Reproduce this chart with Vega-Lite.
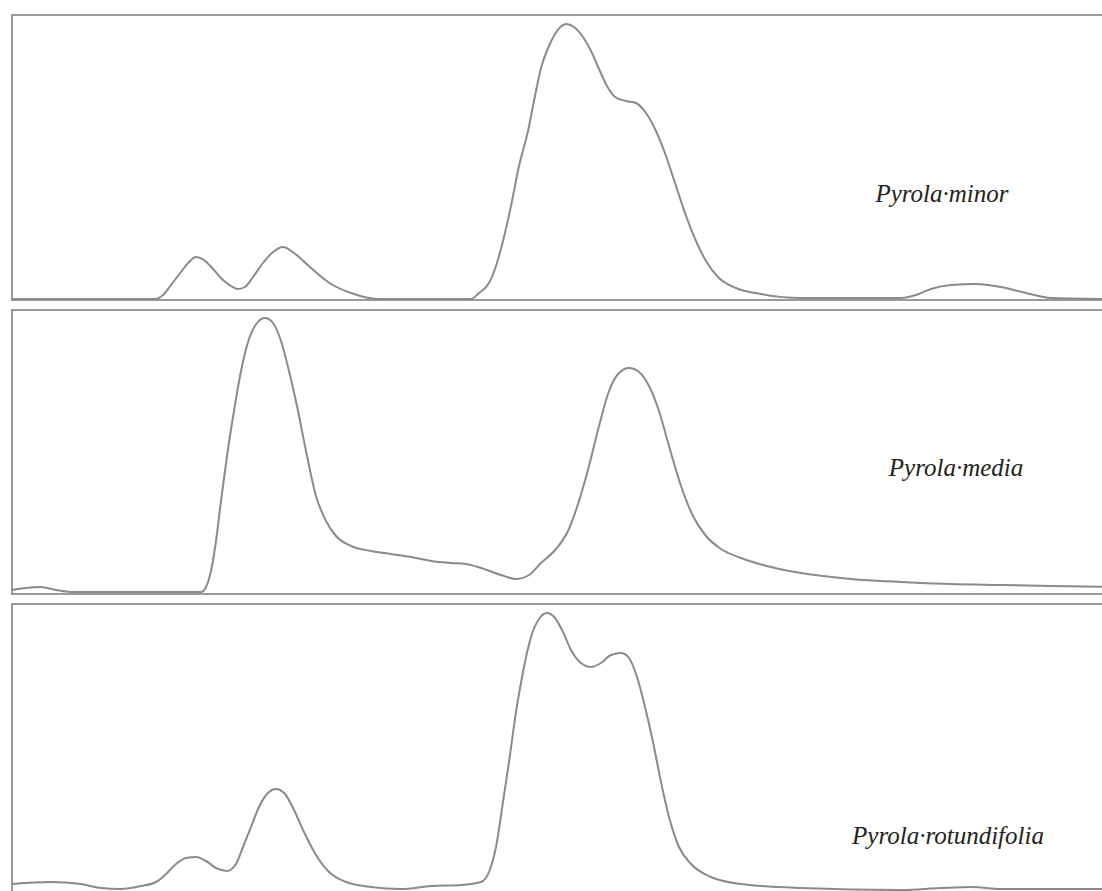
{
  "$schema": "https://vega.github.io/schema/vega-lite/v6.json",
  "padding": {"left": 11, "top": 14, "right": 0, "bottom": 0},
  "background": "white",
  "spacing": 8,
  "config": {
    "view": {"stroke": "#9a9a9a", "strokeWidth": 2},
    "concat": {"spacing": 8}
  },
  "datasets": {
    "minor": [
      {"t": 0, "signal": 1}, {"t": 144, "signal": 1}, {"t": 151, "signal": 5}, {"t": 159, "signal": 15},
      {"t": 169, "signal": 28}, {"t": 177, "signal": 38}, {"t": 184, "signal": 43}, {"t": 192, "signal": 40},
      {"t": 201, "signal": 31}, {"t": 211, "signal": 20}, {"t": 219, "signal": 14}, {"t": 226, "signal": 11},
      {"t": 233, "signal": 13}, {"t": 241, "signal": 23}, {"t": 251, "signal": 37}, {"t": 261, "signal": 48},
      {"t": 271, "signal": 53}, {"t": 282, "signal": 47}, {"t": 299, "signal": 32}, {"t": 319, "signal": 16},
      {"t": 339, "signal": 7}, {"t": 366, "signal": 1}, {"t": 459, "signal": 1}, {"t": 467, "signal": 7},
      {"t": 477, "signal": 17}, {"t": 484, "signal": 34}, {"t": 491, "signal": 59}, {"t": 499, "signal": 94},
      {"t": 507, "signal": 134}, {"t": 516, "signal": 169}, {"t": 522, "signal": 199}, {"t": 529, "signal": 232},
      {"t": 537, "signal": 254}, {"t": 545, "signal": 269}, {"t": 554, "signal": 276}, {"t": 562, "signal": 273},
      {"t": 571, "signal": 263}, {"t": 579, "signal": 249}, {"t": 587, "signal": 231}, {"t": 595, "signal": 214},
      {"t": 603, "signal": 203}, {"t": 614, "signal": 199}, {"t": 624, "signal": 197}, {"t": 634, "signal": 187},
      {"t": 644, "signal": 169}, {"t": 654, "signal": 144}, {"t": 664, "signal": 114}, {"t": 674, "signal": 84},
      {"t": 684, "signal": 59}, {"t": 694, "signal": 39}, {"t": 707, "signal": 22}, {"t": 724, "signal": 12},
      {"t": 749, "signal": 6}, {"t": 789, "signal": 2}, {"t": 889, "signal": 2}, {"t": 904, "signal": 5},
      {"t": 919, "signal": 11}, {"t": 939, "signal": 15}, {"t": 964, "signal": 16}, {"t": 989, "signal": 13},
      {"t": 1014, "signal": 7}, {"t": 1039, "signal": 2}, {"t": 1100, "signal": 1}
    ],
    "media": [
      {"t": 0, "signal": 4}, {"t": 14, "signal": 6}, {"t": 29, "signal": 7}, {"t": 44, "signal": 4},
      {"t": 59, "signal": 2}, {"t": 189, "signal": 2}, {"t": 194, "signal": 7}, {"t": 199, "signal": 23},
      {"t": 204, "signal": 53}, {"t": 209, "signal": 93}, {"t": 215, "signal": 138}, {"t": 222, "signal": 183},
      {"t": 229, "signal": 223}, {"t": 237, "signal": 255}, {"t": 245, "signal": 271}, {"t": 253, "signal": 276},
      {"t": 261, "signal": 271}, {"t": 269, "signal": 253}, {"t": 277, "signal": 223}, {"t": 285, "signal": 188},
      {"t": 294, "signal": 143}, {"t": 304, "signal": 98}, {"t": 314, "signal": 73}, {"t": 324, "signal": 58},
      {"t": 339, "signal": 48}, {"t": 359, "signal": 43}, {"t": 379, "signal": 40}, {"t": 399, "signal": 37},
      {"t": 419, "signal": 33}, {"t": 439, "signal": 31}, {"t": 454, "signal": 30}, {"t": 469, "signal": 26},
      {"t": 489, "signal": 19}, {"t": 504, "signal": 15}, {"t": 517, "signal": 19}, {"t": 529, "signal": 31},
      {"t": 544, "signal": 45}, {"t": 556, "signal": 63}, {"t": 567, "signal": 93}, {"t": 577, "signal": 128},
      {"t": 587, "signal": 168}, {"t": 597, "signal": 203}, {"t": 607, "signal": 221}, {"t": 617, "signal": 226},
      {"t": 627, "signal": 222}, {"t": 637, "signal": 208}, {"t": 647, "signal": 183}, {"t": 657, "signal": 148},
      {"t": 669, "signal": 108}, {"t": 681, "signal": 78}, {"t": 694, "signal": 58}, {"t": 709, "signal": 45},
      {"t": 729, "signal": 36}, {"t": 759, "signal": 27}, {"t": 789, "signal": 21}, {"t": 839, "signal": 15},
      {"t": 889, "signal": 12}, {"t": 939, "signal": 10}, {"t": 989, "signal": 9}, {"t": 1039, "signal": 8},
      {"t": 1100, "signal": 7}
    ],
    "rotundifolia": [
      {"t": 0, "signal": 14}, {"t": 39, "signal": 16}, {"t": 69, "signal": 14}, {"t": 89, "signal": 10},
      {"t": 109, "signal": 9}, {"t": 129, "signal": 12}, {"t": 144, "signal": 16}, {"t": 154, "signal": 24},
      {"t": 164, "signal": 34}, {"t": 174, "signal": 40}, {"t": 184, "signal": 41}, {"t": 194, "signal": 37},
      {"t": 204, "signal": 30}, {"t": 215, "signal": 27}, {"t": 224, "signal": 34}, {"t": 231, "signal": 51},
      {"t": 239, "signal": 71}, {"t": 247, "signal": 91}, {"t": 255, "signal": 104}, {"t": 264, "signal": 109},
      {"t": 273, "signal": 104}, {"t": 282, "signal": 88}, {"t": 292, "signal": 66}, {"t": 304, "signal": 43},
      {"t": 317, "signal": 26}, {"t": 334, "signal": 16}, {"t": 359, "signal": 11}, {"t": 389, "signal": 9},
      {"t": 419, "signal": 12}, {"t": 449, "signal": 13}, {"t": 469, "signal": 16}, {"t": 477, "signal": 26},
      {"t": 484, "signal": 51}, {"t": 491, "signal": 96}, {"t": 497, "signal": 136}, {"t": 504, "signal": 186},
      {"t": 511, "signal": 226}, {"t": 519, "signal": 261}, {"t": 527, "signal": 279}, {"t": 535, "signal": 285},
      {"t": 543, "signal": 280}, {"t": 551, "signal": 266}, {"t": 559, "signal": 248}, {"t": 569, "signal": 235},
      {"t": 579, "signal": 231}, {"t": 589, "signal": 235}, {"t": 599, "signal": 243}, {"t": 609, "signal": 245},
      {"t": 617, "signal": 240}, {"t": 625, "signal": 221}, {"t": 633, "signal": 191}, {"t": 641, "signal": 156},
      {"t": 649, "signal": 116}, {"t": 657, "signal": 81}, {"t": 667, "signal": 51}, {"t": 679, "signal": 34},
      {"t": 699, "signal": 21}, {"t": 729, "signal": 14}, {"t": 789, "signal": 10}, {"t": 889, "signal": 8},
      {"t": 929, "signal": 10}, {"t": 959, "signal": 11}, {"t": 989, "signal": 9}, {"t": 1100, "signal": 9}
    ]
  },
  "vconcat": [
    {
      "width": 1100,
      "height": 285,
      "layer": [
        {
          "data": {"name": "minor"},
          "mark": {"type": "line", "color": "#8a8a8a", "strokeWidth": 2, "interpolate": "monotone", "clip": true},
          "encoding": {
            "x": {"field": "t", "type": "quantitative", "scale": {"domain": [0, 1100], "nice": false}, "axis": null},
            "y": {"field": "signal", "type": "quantitative", "scale": {"domain": [0, 285], "nice": false}, "axis": null}
          }
        },
        {
          "data": {"values": [{"label": "Pyrola·minor"}]},
          "mark": {"type": "text", "font": "Liberation Serif", "fontStyle": "italic", "fontSize": 25, "color": "#222222", "align": "center", "baseline": "middle"},
          "encoding": {
            "text": {"field": "label"},
            "x": {"datum": 930, "type": "quantitative"},
            "y": {"datum": 106, "type": "quantitative"}
          }
        }
      ]
    },
    {
      "width": 1100,
      "height": 284,
      "layer": [
        {
          "data": {"name": "media"},
          "mark": {"type": "line", "color": "#8a8a8a", "strokeWidth": 2, "interpolate": "monotone", "clip": true},
          "encoding": {
            "x": {"field": "t", "type": "quantitative", "scale": {"domain": [0, 1100], "nice": false}, "axis": null},
            "y": {"field": "signal", "type": "quantitative", "scale": {"domain": [0, 284], "nice": false}, "axis": null}
          }
        },
        {
          "data": {"values": [{"label": "Pyrola·media"}]},
          "mark": {"type": "text", "font": "Liberation Serif", "fontStyle": "italic", "fontSize": 25, "color": "#222222", "align": "center", "baseline": "middle"},
          "encoding": {
            "text": {"field": "label"},
            "x": {"datum": 944, "type": "quantitative"},
            "y": {"datum": 126, "type": "quantitative"}
          }
        }
      ]
    },
    {
      "width": 1100,
      "height": 294,
      "layer": [
        {
          "data": {"name": "rotundifolia"},
          "mark": {"type": "line", "color": "#8a8a8a", "strokeWidth": 2, "interpolate": "monotone", "clip": true},
          "encoding": {
            "x": {"field": "t", "type": "quantitative", "scale": {"domain": [0, 1100], "nice": false}, "axis": null},
            "y": {"field": "signal", "type": "quantitative", "scale": {"domain": [0, 294], "nice": false}, "axis": null}
          }
        },
        {
          "data": {"values": [{"label": "Pyrola·rotundifolia"}]},
          "mark": {"type": "text", "font": "Liberation Serif", "fontStyle": "italic", "fontSize": 25, "color": "#222222", "align": "center", "baseline": "middle"},
          "encoding": {
            "text": {"field": "label"},
            "x": {"datum": 936, "type": "quantitative"},
            "y": {"datum": 62, "type": "quantitative"}
          }
        }
      ]
    }
  ]
}
